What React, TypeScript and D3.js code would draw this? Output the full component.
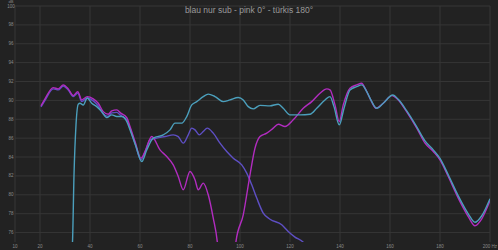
import React from "react";
import * as d3 from "d3";

const W = 498;
const H = 250;

const title = "blau nur sub - pink 0° - türkis 180°";
const xTicks = [10, 20, 40, 60, 80, 100, 120, 140, 160, 180, 200];
const yTicks = [76, 78, 80, 82, 84, 86, 88, 90, 92, 94, 96, 98, 100];

// pink 0°
const pinkF = [20.4, 22, 25.3, 27.3, 29.3, 31.3, 33.3, 35.1, 36.7, 38.9, 41.3, 43.3, 45.3, 47.3, 48.7, 50.7, 52.3, 54.7, 56, 58, 60.4, 62, 64.7, 68, 70.7, 73.3, 75.3, 77.3, 80, 82, 83.3, 85.3, 87.3, 89.3, 90.9, 91.6, 94.5, 97.6, 98.4, 101.3, 104, 106, 108, 110.7, 113.3, 115.3, 118, 121.3, 125.3, 128.7, 132, 134.7, 136, 138, 139.7, 141.3, 144, 146.7, 148.7, 150, 152.3, 154.4, 157.3, 160.7, 163.3, 166.7, 170.7, 174, 177.3, 180, 183.3, 187.3, 191.3, 194, 196.7, 200];
const pinkDb = [89.42, 90.16, 91.35, 91.22, 91.64, 91.22, 90.51, 90.93, 90.05, 90.4, 90.16, 89.7, 88.81, 88.54, 88.89, 89.0, 88.65, 88.18, 87.23, 85.64, 83.88, 84.58, 86.17, 84.76, 84.05, 83.17, 81.94, 80.53, 82.47, 81.59, 80.53, 81.24, 80.0, 77.53, 75.06, 73.1, 70.5, 73.1, 75.06, 77.88, 82.12, 84.94, 86.17, 86.53, 87.06, 87.48, 87.23, 87.94, 89.17, 89.87, 90.76, 91.22, 91.11, 89.52, 87.76, 89.52, 91.29, 91.64, 91.82, 91.29, 90.05, 89.17, 89.7, 90.51, 90.05, 88.78, 87.06, 85.47, 84.58, 83.7, 81.94, 79.65, 77.7, 76.72, 77.46, 79.37];

// türkis 180°
const cyanF = [32.4, 33.0, 33.6, 34.4, 35.3, 36, 37.3, 38.9, 40.7, 42.7, 44.7, 46.7, 48.7, 50.7, 52.7, 54.7, 56, 58.4, 60.7, 62.7, 65.3, 69.3, 72, 74, 76.7, 78.7, 80.7, 82.7, 85.3, 87.3, 90, 93.3, 96, 99.3, 101.3, 103.3, 105.3, 108, 112, 115.3, 117.3, 120, 124, 128, 130.7, 134, 136, 137.6, 139.7, 141.6, 144, 146.7, 148.7, 150.7, 152.7, 154.7, 157.3, 161.1, 163.3, 166.7, 170.7, 174, 177.3, 180, 183.3, 187.3, 191.3, 194, 196.7, 200];
const cyanDb = [73.1, 75.0, 82.1, 87.4, 89.6, 89.7, 89.52, 90.26, 89.7, 89.34, 88.81, 88.18, 88.47, 88.29, 88.29, 87.76, 86.88, 85.11, 83.52, 84.76, 86.0, 86.35, 86.88, 87.59, 87.59, 88.29, 89.52, 89.87, 90.4, 90.66, 90.4, 89.87, 90.05, 90.3, 90.05, 89.34, 89.1, 89.47, 89.42, 89.6, 89.17, 88.47, 88.47, 88.54, 89.17, 90.05, 90.4, 89.34, 87.41, 89.17, 91.11, 91.46, 91.64, 90.93, 89.87, 89.17, 89.7, 90.58, 90.11, 88.89, 87.2, 85.71, 84.76, 83.86, 82.12, 79.89, 77.99, 77.09, 77.78, 79.58];

// blau nur sub
const blueF = [20.4, 22, 25.3, 27.3, 29.3, 31.3, 33.3, 35.1, 36.7, 38.9, 41.3, 43.3, 45.3, 47.3, 48.7, 50.7, 52.3, 54.7, 56, 58, 60.4, 62, 64, 66.7, 70, 73.3, 75.3, 77.3, 79.3, 80.7, 82, 83.7, 85.3, 86.9, 89.3, 92, 94.7, 97.3, 100.7, 102.7, 104.7, 106.7, 109.3, 112, 116.7, 119.3, 122, 125.3, 126.4];
const blueDb = [89.31, 90.0, 91.22, 91.11, 91.53, 91.11, 90.42, 90.79, 89.89, 90.26, 89.95, 89.42, 88.57, 88.31, 88.68, 88.73, 88.41, 87.94, 87.04, 85.45, 83.7, 84.55, 85.82, 86.0, 86.17, 86.35, 86.17, 85.47, 86.35, 87.06, 86.88, 86.35, 86.7, 87.06, 86.53, 85.47, 84.58, 83.88, 83.17, 82.3, 81.06, 79.65, 78.06, 77.41, 76.83, 76.12, 75.52, 74.97, 74.6];

const series = [
  { name: "blau nur sub", f: blueF, db: blueDb, color: "#5e4fc4" },
  { name: "pink 0°", f: pinkF, db: pinkDb, color: "#b22cc0" },
  { name: "türkis 180°", f: cyanF, db: cyanDb, color: "#4b9fbc" },
];

export default function App() {
  const left = 15, right = 490, top = 6, bottom = 242;
  const x = d3.scaleLinear().domain([10, 200]).range([left, right]);
  const y = d3.scaleLinear().domain([75, 100]).range([bottom, top]);
  const line = d3
    .line<[number, number]>()
    .x((d) => x(d[0]))
    .y((d) => y(d[1]))
    .curve(d3.curveMonotoneX);
  const font = "Liberation Sans, Arial, sans-serif";
  return (
    <svg
      width={W}
      height={H}
      style={{ position: "fixed", left: 0, top: 0, background: "#222222" }}
      fontFamily={font}
    >
      <rect x={0} y={0} width={W} height={H} fill="#222222" />
      <defs>
        <clipPath id="plot">
          <rect x={left} y={top} width={right - left} height={bottom - top} />
        </clipPath>
      </defs>
      {yTicks.map((t) => (
        <line key={"h" + t} x1={left} x2={right} y1={y(t)} y2={y(t)} stroke="#363636" strokeWidth={1} />
      ))}
      {xTicks.map((t) => (
        <line key={"v" + t} x1={x(t)} x2={x(t)} y1={top} y2={bottom} stroke="#363636" strokeWidth={1} />
      ))}
      {yTicks.map((t) => (
        <text key={"yl" + t} x={11} y={y(t)} dy="0.35em" fontSize={4.5} fill="#8a8a8a" textAnchor="middle">
          {t}
        </text>
      ))}
      <text x={11} y={2.5} fontSize={4} fill="#8a8a8a" textAnchor="middle">dB</text>
      {xTicks.map((t) => (
        <text key={"xl" + t} x={x(t)} y={246} dy="0.35em" fontSize={4.5} fill="#8a8a8a" textAnchor="middle">
          {t === 200 ? "200 Hz" : t}
        </text>
      ))}
      <text x={249} y={12.5} fontSize={8.5} fill="#9a9a9a" textAnchor="middle">
        {title}
      </text>
      <g clipPath="url(#plot)">
        {series.map((s) => (
          <path
            key={s.name}
            d={line(s.f.map((f, i) => [f, s.db[i]] as [number, number])) || ""}
            fill="none"
            stroke={s.color}
            strokeWidth={1.4}
            strokeLinejoin="round"
          />
        ))}
      </g>
    </svg>
  );
}
